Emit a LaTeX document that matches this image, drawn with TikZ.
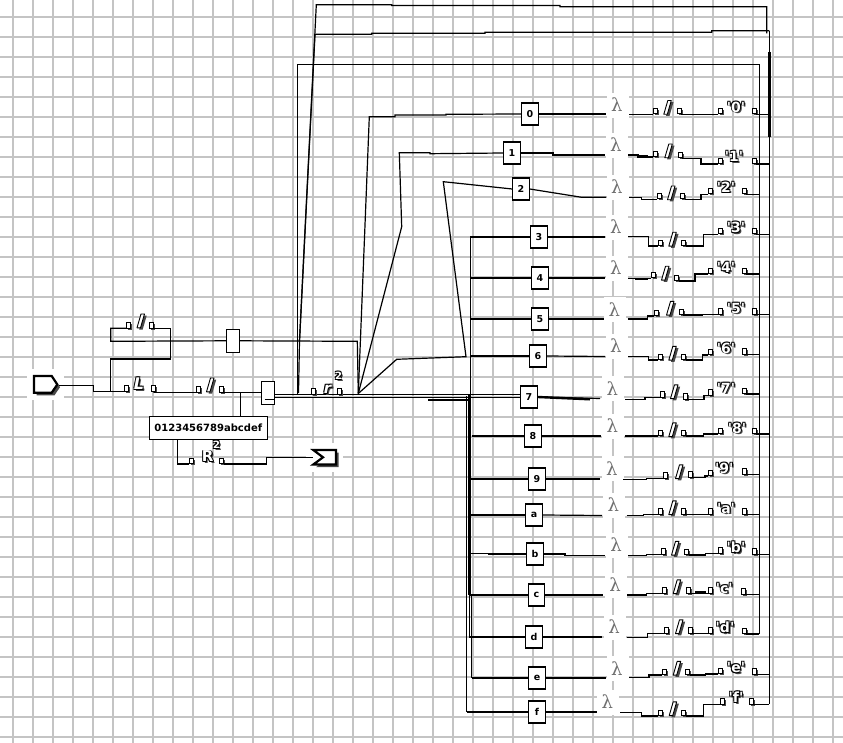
\documentclass[tikz,border=0pt]{standalone}
\usepackage{fontspec}
\setmainfont{DejaVu Sans}
\newfontfamily\lamfont{DejaVu Serif}
\usetikzlibrary{shadows}
\definecolor{gridc}{RGB}{196,196,196}
\definecolor{shc}{RGB}{72,72,72}
\definecolor{lamc}{RGB}{112,112,112}
\tikzset{
 wire/.style={line width=1.2pt},
 fatwire/.style={line width=2.6pt},
 dotm/.style={draw, fill=white, line width=0.8pt, minimum width=4pt, minimum height=5.5pt, inner sep=0pt, anchor=south,
   drop shadow={shadow xshift=1.6pt, shadow yshift=-1.6pt, fill=shc, opacity=1}},
 digbox/.style={draw, fill=white, line width=1.1pt, minimum width=16.5pt, minimum height=22pt, inner sep=0pt,
   font=\bfseries\fontsize{9.5}{9.5}\selectfont},
 smallbox/.style={draw, fill=white, line width=1.1pt, minimum width=12.6pt, minimum height=23pt, inner sep=0pt},
 lam/.style={text=lamc, font=\lamfont\fontsize{18}{18}\selectfont, inner sep=0pt},
 gedge/.style={text=black, inner sep=0pt},
 gface/.style={text=white, inner sep=0pt},
 gshad/.style={text=shc, inner sep=0pt},
 flag/.style={draw=black, fill=white, line width=2.2pt, line join=miter},
}
\newcommand\gfont{\bfseries\fontsize{14}{14}\selectfont}
\newcommand\qch[1]{\textquotesingle#1\textquotesingle}
\newcommand\oglyph[4]{%
  \node[gshad] at (#2+1.8,#3+1.8) {#4};
  \foreach \dx/\dy in {-0.85/-0.85,0.85/0.85,-0.85/0.85,0.85/-0.85}
    {\node[gedge] at (#2+\dx,#3+\dy) {#4};}
  \node[gface] (#1) at (#2,#3) {#4};
}
\newcommand\slashg[2]{%
  \begin{scope}[shift={(#1,#2)}]
    \fill[shc] (-1.3,8.5) -- (2.2,8.5) -- (6.2,-5.3) -- (2.7,-5.3) -- cycle;
    \filldraw[fill=white,draw=black,line width=0.9pt,line join=round] (-3.5,6.8) -- (0,6.8) -- (4,-7) -- (0.5,-7) -- cycle;
  \end{scope}}
\newcommand\pdot[3]{\node[dotm] (#1) at (#2,#3) {};}
\newcommand\lamb[3]{\fill[white] (#2-10,#3-12) rectangle (#2+12,#3+13);
  \node[lam] (#1) at (#2,#3) {λ};}
\begin{document}
\begin{tikzpicture}[x=1pt,y=-1pt]
\useasboundingbox (0,0) rectangle (843,743);
\fill[white] (0,0) rectangle (843,743);
% grid
\foreach \x in {13,33,...,833} \draw[gridc, line width=1.3pt] (\x,0) -- (\x,743);
\foreach \y in {17,37,...,737} \draw[gridc, line width=1.3pt] (0,\y) -- (843,\y);
% halos of the flags
\fill[white] (27,369) rectangle (64,400);
\fill[white] (306,443) rectangle (343,472);

% ---------- long wires ----------
\coordinate (hub) at (358.3,393.5);
\draw[wire] (298.5,393) -- (299.5,341) -- (316.3,4.7) -- (391.7,4.7) -- (391.7,5.5) -- (560,5.5) -- (560,6.7) -- (766.7,6.7) -- (766.7,33.3);
\draw[wire] (299.5,341) -- (315,34.3) -- (371.7,34.3) -- (371.7,33.3) -- (485,33.3) -- (485,32.3) -- (711.7,32.3) -- (711.7,30.7) -- (769.3,30.7);
\draw[wire] (297.3,393.5) -- (297.3,64.3) -- (759.3,64.3) -- (759.3,634);
\draw[wire] (769.3,30.7) -- (769.3,704.3);
\draw[fatwire] (769.3,52) -- (769.3,137);
\draw[wire] (274.3,394.3) -- (520.7,394.3);
\draw[wire] (274.3,397.8) -- (520.7,397.8);
\draw[fatwire] (428.3,400) -- (470,400);
\draw[wire] (470.3,237) -- (470.3,396);
\draw[line width=3pt] (469.7,395) -- (469.7,595);
\draw[wire] (466.7,396) -- (466.7,712);
\draw[wire] (469.3,595) -- (469.3,637);
\draw[wire] (471.7,595) -- (471.7,678);

% ---------- boxes ----------
\node[digbox] (n0) at (530,114) {0};
\node[digbox] (n1) at (512,153) {1};
\node[digbox] (n2) at (521,189) {2};
\node[digbox] (n3) at (539,237) {3};
\node[digbox] (n4) at (540,278) {4};
\node[digbox] (n5) at (540,319) {5};
\node[digbox] (n6) at (538,356) {6};
\node[digbox] (n7) at (529,397) {7};
\node[digbox] (n8) at (533,436) {8};
\node[digbox] (n9) at (537,479) {9};
\node[digbox] (na) at (534,515) {a};
\node[digbox] (nb) at (535,554) {b};
\node[digbox] (nc) at (536.5,595) {c};
\node[digbox] (nd) at (534,637) {d};
\node[digbox] (ne) at (537,678) {e};
\node[digbox] (nf) at (537,712) {f};

\draw[wire] (n0.west) -- (446,114.3) -- (446,115) -- (395,115) -- (395,116.7) -- (369.3,116.7) -- (hub);
\draw[wire] (n1.west) -- (430,153.7) -- (430,152.7) -- (399.3,152.7) -- (401.7,226.7) -- (hub);
\draw[wire] (n2.west) -- (443.3,181.7) -- (466,356.7) -- (396.7,359.3) -- (hub);
\draw[wire] (470.3,237) -- (n3.west);
\draw[wire] (470.3,278) -- (n4.west);
\draw[wire] (470.3,319) -- (n5.west);
\draw[wire] (470.3,356) -- (n6.west);
\draw[wire] (471.7,436) -- (n8.west);
\draw[wire] (470,479) -- (n9.west);
\draw[wire] (470,515) -- (na.west);
\draw[wire] (468.3,553.3) -- (488.3,553.3) -- (488.3,554) -- (nb.west);
\draw[wire] (470,595) -- (nc.west);
\draw[wire] (469.3,637) -- (nd.west);
\draw[wire] (471.7,678) -- (ne.west);
\draw[wire] (466.7,712) -- (nf.west);
\draw[wire] (n0.east) -- (606,114);
\draw[wire] (n1.east) -- (553,153) -- (553,155) -- (605,155);
\draw[wire] (n2.east) -- (581.7,197.3) -- (606,197.3);
\draw[wire] (n3.east) -- (605,237);
\draw[wire] (n4.east) -- (605,278);
\draw[wire] (n5.east) -- (604,319);
\draw[wire] (n6.east) -- (605,356.5);
\draw[wire] (n7.east) -- (600,398.5);
\draw[line width=2.4pt] (n7.east) -- (590,399.3);
\draw[wire] (n8.east) -- (601,436);
\draw[wire] (n9.east) -- (600,479);
\draw[wire] (na.east) -- (602,515.5);
\draw[wire] (nb.east) -- (565,554) -- (565,555.7) -- (605,555.7);
\draw[wire] (nc.east) -- (603,595);
\draw[wire] (nd.east) -- (602,637);
\draw[wire] (ne.east) -- (606,678);
\draw[wire] (nf.east) -- (596.7,712);

% ---------- rows after the lambdas ----------
\lamb{l0}{616.7}{105}
\pdot{p0a}{655}{114.3}\pdot{p0b}{679}{114.3}\pdot{p0c}{720}{114.3}\pdot{p0d}{754}{114.3}
\draw[wire] (629,114.3) -- (p0a.south west);
\draw[wire] (p0b.south east) -- (p0c.south west);
\draw[wire] (p0d.south east) -- (769.3,114.3);
\slashg{667.3}{107.5}
\oglyph{g0}{736}{107}{\gfont\qch{0}}

\lamb{l1}{615.7}{145}
\pdot{p1a}{655}{157}\pdot{p1b}{680}{158.3}\pdot{p1c}{720}{164}\pdot{p1d}{754}{164}
\draw[wire] (628.3,155) -- (638,155) -- (638,157) -- (p1a.south west);
\draw[line width=2pt] (638,156.5) -- (648,156.5);
\draw[wire] (p1b.south east) -- (701,158.3) -- (701,164) -- (p1c.south west);
\draw[wire] (p1d.south east) -- (769.3,164);
\slashg{668.3}{151}
\oglyph{g1}{734}{156.5}{\gfont\qch{1}}

\lamb{l2}{616.7}{186.7}
\pdot{p2a}{659}{199.3}\pdot{p2b}{682.7}{199.3}\pdot{p2c}{710}{194.3}\pdot{p2d}{744}{194.3}
\draw[wire] (629,197.3) -- (641.7,197.3) -- (641.7,199.3) -- (p2a.south west);
\draw[wire] (p2b.south east) -- (701,199.3) -- (701,194.3) -- (p2c.south west);
\draw[wire] (p2d.south east) -- (759.3,194.3);
\slashg{671}{193}
\oglyph{g2}{726}{187}{\gfont\qch{2}}

\lamb{l3}{615.7}{226.7}
\pdot{p3a}{660.7}{246}\pdot{p3b}{683.3}{246}\pdot{p3c}{720}{234.3}\pdot{p3d}{754}{234.3}
\draw[wire] (628.3,236.7) -- (648.3,236.7) -- (648.3,246) -- (p3a.south west);
\draw[wire] (p3b.south east) -- (703.3,246) -- (703.3,234.3) -- (p3c.south west);
\draw[wire] (p3d.south east) -- (769.3,234.3);
\slashg{672.3}{239.3}
\oglyph{g3}{736}{227.5}{\gfont\qch{3}}

\lamb{l4}{615.7}{267.7}
\pdot{p4a}{653}{278.3}\pdot{p4b}{676.7}{281}\pdot{p4c}{710}{274}\pdot{p4d}{744}{274}
\draw[wire] (628.3,278.3) -- (p4a.south west);
\draw[line width=2pt] (635,279.3) -- (648,279.3);
\draw[wire] (p4b.south east) -- (695,281) -- (695,274) -- (p4c.south west);
\draw[wire] (p4d.south east) -- (759.3,274);
\slashg{665}{273.3}
\oglyph{g4}{726}{267.5}{\gfont\qch{4}}

\lamb{l5}{614.3}{309.3}
\pdot{p5a}{656.7}{316}\pdot{p5b}{681}{315}\pdot{p5c}{720}{314.3}\pdot{p5d}{754}{314.3}
\draw[wire] (627.7,319) -- (647.7,319) -- (647.7,316) -- (p5a.south west);
\draw[wire] (p5b.south east) -- (702.3,315) -- (702.3,314.3) -- (p5c.south west);
\draw[wire] (p5d.south east) -- (769.3,314.3);
\slashg{670}{308.3}
\oglyph{g5}{736}{308}{\gfont\qch{5}}

\lamb{l6}{615.7}{346}
\pdot{p6a}{660.7}{360}\pdot{p6b}{683.3}{360}\pdot{p6c}{710}{355}\pdot{p6d}{744}{354.3}
\draw[wire] (628.3,356.7) -- (648.3,356.7) -- (648.3,360) -- (p6a.south west);
\draw[wire] (p6b.south east) -- (702.3,360) -- (702.3,355) -- (p6c.south west);
\draw[wire] (p6d.south east) -- (759.3,354.3);
\slashg{672.3}{353.3}
\oglyph{g6}{726}{348}{\gfont\qch{6}}

\lamb{l7}{612.3}{388.3}
\pdot{p7a}{662.3}{397.3}\pdot{p7b}{685.3}{399.3}\pdot{p7c}{710}{395.7}\pdot{p7d}{744}{394}
\draw[wire] (625,399.3) -- (645,399.3) -- (645,397.3) -- (p7a.south west);
\draw[wire] (p7b.south east) -- (704,399.3) -- (704,395.7) -- (p7c.south west);
\draw[wire] (p7d.south east) -- (759.3,394);
\slashg{674}{391.8}
\oglyph{g7}{726}{388}{\gfont\qch{7}}

\lamb{l8}{612.3}{426}
\pdot{p8a}{660}{436}\pdot{p8b}{683.3}{436}\pdot{p8c}{720}{434}\pdot{p8d}{754}{434}
\draw[wire] (625,436) -- (p8a.south west);
\draw[wire] (p8b.south east) -- (703.3,436) -- (703.3,434) -- (p8c.south west);
\draw[wire] (p8d.south east) -- (769.3,434);
\slashg{672.3}{429.8}
\oglyph{g8}{737}{428}{\gfont\qch{8}}

\lamb{l9}{611.7}{468.3}
\pdot{p9a}{665.7}{478.3}\pdot{p9b}{690}{477.7}\pdot{p9c}{710}{476}\pdot{p9d}{744}{474.3}
\draw[wire] (623.3,479.3) -- (646.7,479.3) -- (646.7,478.3) -- (p9a.south west);
\draw[wire] (p9b.south east) -- (705,477.7) -- (705,476) -- (p9c.south west);
\draw[wire] (p9d.south east) -- (759.3,474.3);
\slashg{679}{471.8}
\oglyph{g9}{724.3}{468}{\gfont\qch{9}}

\lamb{la}{613.3}{505}
\pdot{pAa}{660}{514.3}\pdot{pAb}{683.3}{514.3}\pdot{pAc}{710}{514.3}\pdot{pAd}{744}{514.3}
\draw[wire] (626.7,515.7) -- (643.3,515.7) -- (643.3,514.3) -- (pAa.south west);
\draw[wire] (pAb.south east) -- (pAc.south west);
\draw[wire] (pAd.south east) -- (759.3,514.3);
\slashg{672.3}{507.8}
\oglyph{gA}{726}{508}{\gfont\qch{a}}

\lamb{lb}{616}{545}
\pdot{pBa}{663.3}{554.3}\pdot{pBb}{686.7}{555}\pdot{pBc}{720}{553.3}\pdot{pBd}{754}{554.3}
\draw[wire] (628.3,555.7) -- (646.7,555.7) -- (646.7,554.3) -- (pBa.south west);
\draw[wire] (pBb.south east) -- (705.7,555) -- (705.7,553.3) -- (pBc.south west);
\draw[wire] (pBd.south east) -- (769.3,554.3);
\slashg{675}{548.3}
\oglyph{gB}{736}{547}{\gfont\qch{b}}

\lamb{lc}{615}{585}
\pdot{pCa}{664}{593.3}\pdot{pCb}{688.3}{593.3}\pdot{pCc}{710.7}{593.3}\pdot{pCd}{743.3}{594.3}
\draw[wire] (627.3,595) -- (646.7,595) -- (646.7,593.3) -- (pCa.south west);
\draw[wire] (pCb.south east) -- (pCc.south west);
\draw[line width=2pt] (695,592.3) -- (706,592.3);
\draw[wire] (pCd.south east) -- (759.3,594.3);
\slashg{676.7}{586.8}
\oglyph{gC}{724.3}{588}{\gfont\qch{c}}

\lamb{ld}{614}{626.7}
\pdot{pDa}{666.7}{633.3}\pdot{pDb}{690}{633.3}\pdot{pDc}{710}{633.3}\pdot{pDd}{744}{634}
\draw[wire] (626.7,637.3) -- (647.7,637.3) -- (647.7,633.3) -- (pDa.south west);
\draw[wire] (pDb.south east) -- (pDc.south west);
\draw[wire] (pDd.south east) -- (759.3,634);
\slashg{679}{626.8}
\oglyph{gD}{725}{627.5}{\gfont\qch{d}}

\lamb{le}{616.7}{668.3}
\pdot{pEa}{664}{675}\pdot{pEb}{687.7}{675}\pdot{pEc}{720.7}{674}\pdot{pEd}{754}{674.3}
\draw[wire] (629.3,677.7) -- (649,677.7) -- (649,675) -- (pEa.south west);
\draw[wire] (pEb.south east) -- (705.7,675) -- (705.7,674) -- (pEc.south west);
\draw[wire] (pEd.south east) -- (769.3,674.3);
\slashg{676.7}{668.3}
\oglyph{gE}{736}{667.5}{\gfont\qch{e}}

\lamb{lf}{607.3}{701.7}
\pdot{pFa}{660}{716}\pdot{pFb}{683.3}{716}\pdot{pFc}{722.3}{704.3}\pdot{pFd}{751.7}{704.3}
\draw[wire] (620,712.3) -- (641.7,712.3) -- (641.7,716) -- (pFa.south west);
\draw[wire] (pFb.south east) -- (703.3,716) -- (703.3,704.3) -- (pFc.south west);
\draw[wire] (pFd.south east) -- (769.3,704.3);
\slashg{672.7}{708.8}
\oglyph{gF}{736}{697}{\gfont\qch{f}}

% ---------- left part ----------
\fill[shc] (36.7,378.7) -- (54.4,378.7) -- (60,387.2) -- (54.4,395.4) -- (36.7,395.4) -- cycle;
\draw[flag] (34,376) -- (51.7,376) -- (57.3,384.5) -- (51.7,392.7) -- (34,392.7) -- cycle;
\coordinate (inflag) at (58.5,385.3);
\fill[shc] (316,452.7) -- (338.7,452.7) -- (338.7,467.2) -- (316,467.2) -- (325.7,460) -- cycle;
\draw[flag] (313.3,450) -- (336,450) -- (336,464.5) -- (313.3,464.5) -- (323,457.3) -- cycle;
\coordinate (outflag) at (313.3,457.3);

\node[smallbox] (sb) at (233,340.8) {};
\node[smallbox] (gate) at (268,392.8) {};
\node[draw, fill=white, line width=1.1pt, minimum width=118pt, minimum height=22.6pt, inner sep=0pt,
  font=\bfseries\fontsize{10}{10}\selectfont] (hex) at (208.3,428) {0123456789abcdef};

\pdot{dT1}{128.3}{328.3}\pdot{dT2}{151.7}{328.3}
\pdot{dL1}{126}{391.3}\pdot{dL2}{153.3}{391.3}
\pdot{dS1}{198.3}{392.3}\pdot{dS2}{221.7}{392.3}
\pdot{dr1}{313}{394.3}\pdot{dr2}{339.3}{394.3}
\pdot{dR1}{191.3}{464}\pdot{dR2}{221.3}{464}

\draw[wire] (inflag) -- (93.3,385.3) -- (93.3,391.3) -- (dL1.south west);
\draw[wire] (110.7,391.3) -- (110.7,359) -- (170.7,359) -- (170.7,328.3) -- (dT2.south east);
\draw[wire] (dT1.south west) -- (110.7,328.3) -- (110.7,341.3) -- (sb.west);
\draw[wire] (sb.east) -- (357.3,341.3) -- (hub);
\draw[wire] (dL2.south east) -- (155,391.3) -- (155,392.3) -- (dS1.south west);
\draw[wire] (dS2.south east) -- (gate.west |- dS2.south);
\draw[wire] (240.7,392.3) -- (hex.north -| 240.7,392.3);
\draw[wire] (264.7,399.3) -- (gate.east |- 264.7,399.3);
\draw[wire] (hex.south -| 177.3,440) -- (177.3,464) -- (dR1.south west);
\draw[wire] (dR2.south east) -- (266.7,464) -- (266.7,457.3) -- (outflag);

\slashg{140.5}{321}
\slashg{210}{385}
\oglyph{gL}{139}{383.5}{\bfseries\itshape\fontsize{16}{16}\selectfont L}
\oglyph{gr}{327.5}{389}{\bfseries\itshape\fontsize{15}{15}\selectfont r}
\oglyph{gr2}{338.5}{375.5}{\bfseries\fontsize{10}{10}\selectfont 2}
\oglyph{gR}{207.7}{456.5}{\bfseries\fontsize{15}{15}\selectfont R}
\oglyph{gR2}{216.5}{445}{\bfseries\fontsize{10}{10}\selectfont 2}
\end{tikzpicture}
\end{document}
